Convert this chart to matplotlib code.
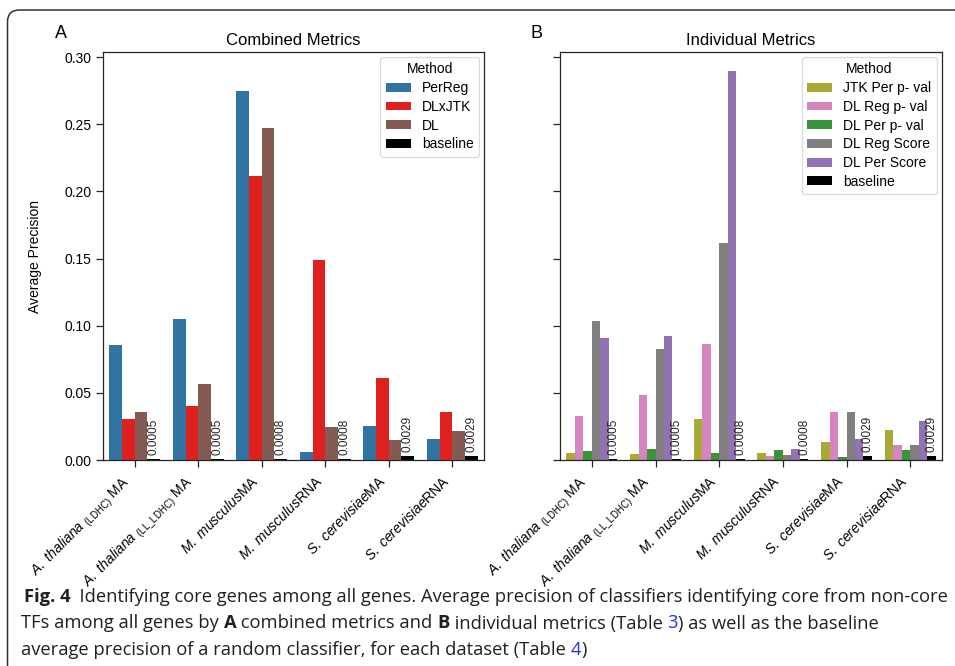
import matplotlib
matplotlib.use('Agg')
import matplotlib.pyplot as plt
import numpy as np
from matplotlib.patches import FancyBboxPatch
from matplotlib.transforms import IdentityTransform
from matplotlib.font_manager import FontProperties

plt.rcParams['font.family'] = ['Liberation Sans', 'DejaVu Sans']
plt.rcParams['mathtext.fontset'] = 'custom'
plt.rcParams['mathtext.rm'] = 'Liberation Sans'
plt.rcParams['mathtext.it'] = 'Liberation Sans:italic'
plt.rcParams['mathtext.bf'] = 'Liberation Sans:bold'

datasets = [r'$\mathit{A.\ thaliana}$ $_{\mathrm{(LDHC)}}$ MA',
            r'$\mathit{A.\ thaliana}$ $_{\mathrm{(LL\_LDHC)}}$ MA',
            r'$\mathit{M.\ musculus}$MA',
            r'$\mathit{M.\ musculus}$RNA',
            r'$\mathit{S.\ cerevisiae}$MA',
            r'$\mathit{S.\ cerevisiae}$RNA']

# combined metrics (panel A)
combined_names = ['PerReg', 'DLxJTK', 'DL', 'baseline']
perreg = [0.086, 0.105, 0.275, 0.006, 0.025, 0.0155]
dlxjtk = [0.0305, 0.040, 0.2115, 0.149, 0.061, 0.0355]
dl = [0.036, 0.0565, 0.247, 0.0245, 0.015, 0.0215]
baseline = [0.0005, 0.0005, 0.0008, 0.0008, 0.0029, 0.0029]

# individual metrics (panel B)
individual_names = ['JTK Per p- val', 'DL Reg p- val', 'DL Per p- val',
                    'DL Reg Score', 'DL Per Score', 'baseline']
jtk_per_pval = [0.0052, 0.0045, 0.0305, 0.0052, 0.0134, 0.0223]
dl_reg_pval = [0.0327, 0.0484, 0.0863, 0.003, 0.0357, 0.0112]
dl_per_pval = [0.0067, 0.0082, 0.0052, 0.0074, 0.0022, 0.0074]
dl_reg_score = [0.1034, 0.0826, 0.1614, 0.0037, 0.0357, 0.0112]
dl_per_score = [0.0908, 0.0922, 0.2894, 0.0082, 0.0156, 0.029]

combined_colors = ['#3274a1', '#df2020', '#845b53', '#000000']
individual_colors = ['#a9a935', '#d584bd', '#3a923a', '#7f7f7f', '#9372b2', '#000000']

CAPTION_FONT = ['Open Sans', 'DejaVu Sans']
TEXT_GREY = '#231f20'
LINK_BLUE = '#2b2bf0'


def draw_panel(ax, series, names, colors, title):
    '''grouped bars, one group per dataset, baseline value written above the last bar'''
    x = np.arange(len(datasets))
    width = 0.8 / len(series)
    for i, (vals, name, c) in enumerate(zip(series, names, colors)):
        ax.bar(x - 0.4 + width * (i + 0.5), vals, width, color=c,
               label=name, linewidth=0)
    for xi, b in zip(x, baseline):
        ax.text(xi + 0.4 - width / 2, b + 0.003, '%.4f' % b, rotation=90,
                ha='center', va='bottom', fontsize=8.5, color='#222222')
    ax.set_xticks(x)
    ax.set_xticklabels(datasets, rotation=45, ha='right', fontsize=10)
    ax.set_xlim(-0.5, len(datasets) - 0.5)
    ax.set_title(title, fontsize=12, pad=5)
    for s in ax.spines.values():
        s.set_linewidth(0.9)
        s.set_color('#262626')
    ax.tick_params(length=5, width=0.9, color='#262626')
    ax.tick_params(axis='x', pad=4.5)
    ax.tick_params(axis='y', labelsize=10)
    leg = ax.legend(title='Method', loc='upper right', fontsize=10,
                    title_fontsize=10, labelspacing=0.34, handlelength=1.8,
                    handleheight=0.6, borderaxespad=0.35, borderpad=0.4,
                    handletextpad=0.8, fancybox=True)
    leg.get_frame().set_edgecolor('0.82')
    leg.get_frame().set_linewidth(0.9)


def text_width(renderer, s, prop):
    # measure with a sentinel so leading/trailing spaces count
    w1 = renderer.get_text_width_height_descent(s + '|', prop, ismath=False)[0]
    w2 = renderer.get_text_width_height_descent('|', prop, ismath=False)[0]
    return w1 - w2


def run_props(run, size):
    s, weight, color = run
    return FontProperties(family=CAPTION_FONT, size=size, weight=weight)


def put_runs(fig, x, y, runs, size):
    renderer = fig.canvas.get_renderer()
    for run in runs:
        prop = run_props(run, size)
        fig.text(x, y, run[0], transform=IdentityTransform(),
                 fontproperties=prop, color=run[2], va='baseline')
        x += text_width(renderer, run[0], prop)


def line_width(fig, runs, size):
    renderer = fig.canvas.get_renderer()
    return sum(text_width(renderer, r[0], run_props(r, size)) for r in runs)


fig = plt.figure(figsize=(9.55, 6.66), dpi=100)
axA = fig.add_axes([0.1079, 0.3093, 0.3989, 0.6126])
axB = fig.add_axes([0.5864, 0.3093, 0.4000, 0.6126], sharey=axA)

draw_panel(axA, [perreg, dlxjtk, dl, baseline], combined_names,
           combined_colors, 'Combined Metrics')
draw_panel(axB, [jtk_per_pval, dl_reg_pval, dl_per_pval, dl_reg_score,
                 dl_per_score, baseline], individual_names,
           individual_colors, 'Individual Metrics')
axA.set_ylabel('Average Precision', fontsize=10, labelpad=16)
axB.tick_params(labelleft=False)

fig.text(61, 666 - 34, 'A', transform=IdentityTransform(), fontsize=13,
         ha='center', va='center')
fig.text(537, 666 - 34, 'B', transform=IdentityTransform(), fontsize=13,
         ha='center', va='center')

# rounded frame that runs off the right and bottom edges
frame = FancyBboxPatch((7.5, -60), 1100, 656 + 60, transform=IdentityTransform(),
                       boxstyle='round,pad=0,rounding_size=12', fill=False,
                       edgecolor='#333333', linewidth=1.1, clip_on=False)
fig.patches.append(frame)

caption = [
    [('Fig. 4', 'bold', TEXT_GREY),
     ('  Identifying core genes among all genes. Average precision of classifiers '
      'identifying core from non-core', 'normal', TEXT_GREY)],
    [('TFs among all genes by ', 'normal', TEXT_GREY), ('A', 'bold', TEXT_GREY),
     (' combined metrics and ', 'normal', TEXT_GREY), ('B', 'bold', TEXT_GREY),
     (' individual metrics (Table ', 'normal', TEXT_GREY), ('3', 'normal', LINK_BLUE),
     (') as well as the baseline', 'normal', TEXT_GREY)],
    [('average precision of a random classifier, for each dataset (Table ',
      'normal', TEXT_GREY), ('4', 'normal', LINK_BLUE), (')', 'normal', TEXT_GREY)],
]
# first caption line spans ~927 px in the reference, size the font to that
cap_size = 10 * 927 / line_width(fig, caption[0], 10)
put_runs(fig, 24, 666 - 602, caption[0], cap_size)
put_runs(fig, 21, 666 - 628.5, caption[1], cap_size)
put_runs(fig, 21, 666 - 655, caption[2], cap_size)

fig.savefig('out.png', dpi=100)
